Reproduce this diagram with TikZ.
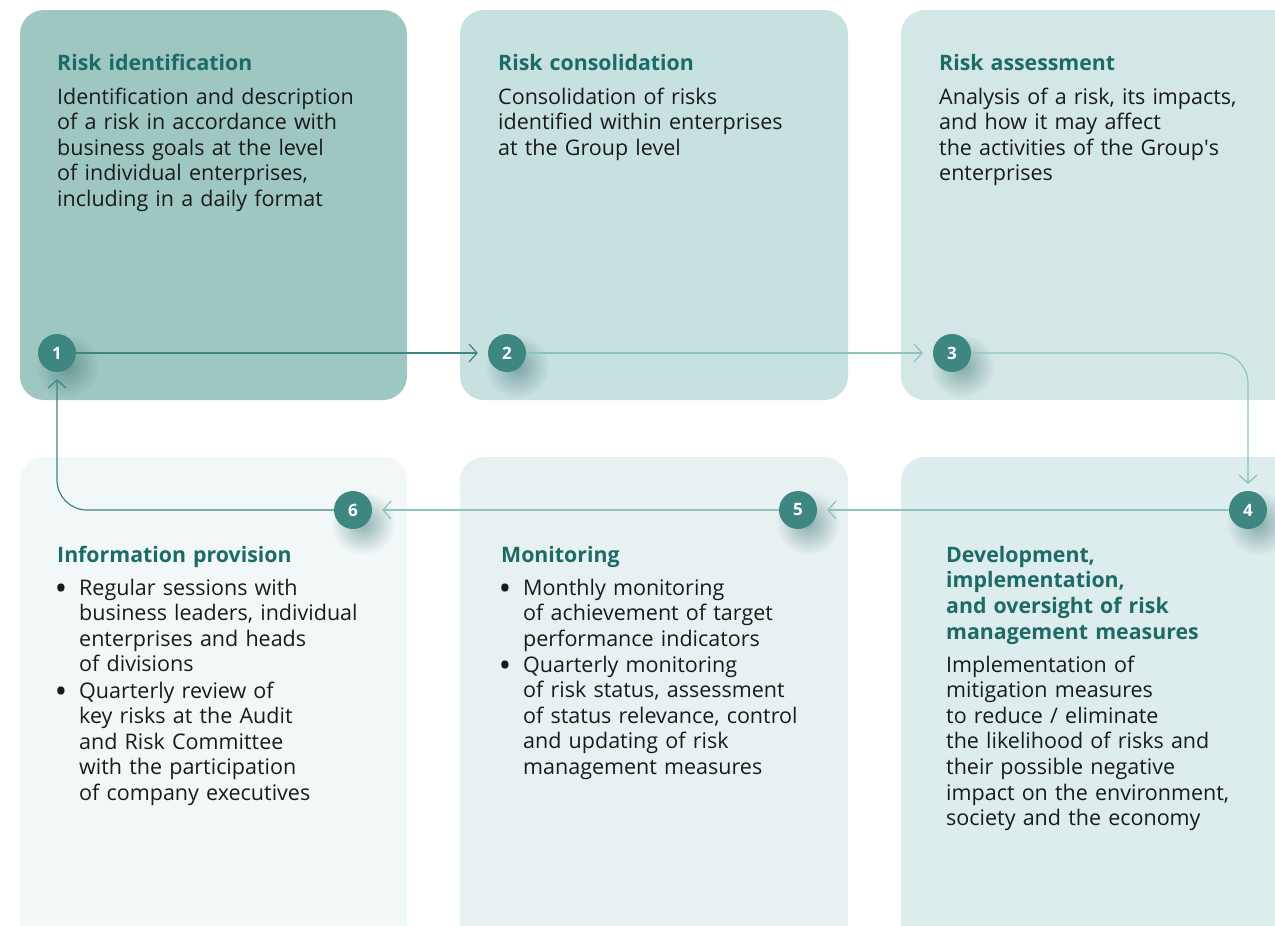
\documentclass[tikz,border=0pt]{standalone}
\usepackage{fontspec}
\setmainfont{Open Sans}
\usetikzlibrary{arrows.meta,fadings}
\definecolor{cardA}{HTML}{9FC7C2}
\definecolor{cardB}{HTML}{C7E0E0}
\definecolor{cardC}{HTML}{D3E7E6}
\definecolor{cardD}{HTML}{DDECEC}
\definecolor{cardE}{HTML}{E7F1F1}
\definecolor{cardF}{HTML}{F2F8F8}
\definecolor{circ}{HTML}{3E8680}
\definecolor{titlec}{HTML}{1D6B67}
\definecolor{bodyc}{HTML}{1A1A1A}
\definecolor{lightc}{HTML}{8DC3BD}
\definecolor{shadc}{HTML}{2F6A66}
\tikzfading[name=softshadow, inner color=transparent!0, outer color=transparent!100]
\begin{document}
\begin{tikzpicture}[x=1pt,y=-1pt,
  card/.style={rounded corners=24pt},
  num/.style={circle,fill=circ,minimum size=38pt,inner sep=0pt,text=white,
    font=\bfseries\fontsize{17}{17}\selectfont},
  shadow/.style={fill=shadc,opacity=0.5,path fading=softshadow},
  ttl/.style={anchor=base west,text width=380pt,align=left,inner sep=0pt,text=titlec,
    font=\bfseries\fontsize{21.3}{25.8}\selectfont},
  body/.style={anchor=base west,text width=380pt,align=left,inner sep=0pt,text=bodyc,
    font=\fontsize{21.5}{25.6}\selectfont},
  bul/.style={anchor=base west,inner sep=0pt,text=bodyc,font=\bfseries\fontsize{26}{25.6}\selectfont},
  darkconn/.style={draw=circ,line width=1.2pt,-{Straight Barb[length=8pt,width=18pt]}},
  lightconn/.style={draw=lightc,line width=1.2pt,-{Straight Barb[length=8pt,width=18pt]}}
]
\useasboundingbox (0,0) rectangle (1275,926);
\clip (0,0) rectangle (1275,926);
% cards
\fill[cardA,card] (20,10) rectangle (407,400);
\fill[cardB,card] (460,10) rectangle (848,400);
\fill[cardC,card] (901,10) rectangle (1320,400);
\fill[cardD,card] (901,457) rectangle (1320,960);
\fill[cardE,card] (460,457) rectangle (848,960);
\fill[cardF,card] (20,457) rectangle (407,960);

% texts card 1
\node[ttl] (t1) at (57,70) {Risk identification};
\node[body] (b1) at (57,104) {Identification and description\\of a risk in accordance with\\business goals at the level\\of individual enterprises,\\including in a daily format};
% card 2
\node[ttl] (t2) at (498,70) {Risk consolidation};
\node[body] (b2) at (498,104) {Consolidation of risks\\identified within enterprises\\at the Group level};
% card 3
\node[ttl] (t3) at (939,70) {Risk assessment};
\node[body] (b3) at (939,104) {Analysis of a risk, its impacts,\\and how it may affect\\the activities of the Group\textquotesingle s\\enterprises};
% card 4
\node[ttl] (t4) at (946,562) {Development,\\implementation,\\and oversight of risk\\management measures};
\node[body] (b4) at (946,672) {Implementation of\\mitigation measures\\to reduce / eliminate\\the likelihood of risks and\\their possible negative\\impact on the environment,\\society and the economy};
% card 5
\node[ttl] (t5) at (501,562) {Monitoring};
\node[bul] (d5a) at (500,597) {•};
\node[body] (b5a) at (523,595) {Monthly monitoring\\of achievement of target\\performance indicators};
\node[bul] (d5b) at (500,674) {•};
\node[body] (b5b) at (523,672) {Quarterly monitoring\\of risk status, assessment\\of status relevance, control\\and updating of risk\\management measures};
% card 6
\node[ttl] (t6) at (57,562) {Information provision};
\node[bul] (d6a) at (56,597) {•};
\node[body] (b6a) at (79,595) {Regular sessions with\\business leaders, individual\\enterprises and heads\\of divisions};
\node[bul] (d6b) at (56,700) {•};
\node[body] (b6b) at (79,698) {Quarterly review of\\key risks at the Audit\\and Risk Committee\\with the participation\\of company executives};

% soft shadows under the circles
\fill[shadow] (67,366) circle (32pt);
\fill[shadow] (517,366) circle (32pt);
\fill[shadow] (962,366) circle (32pt);
\fill[shadow] (1258,523) circle (32pt);
\fill[shadow] (808,523) circle (32pt);
\fill[shadow] (363,523) circle (32pt);

% numbered circles
\node[num] (c1) at (57,353) {1};
\node[num] (c2) at (507,353) {2};
\node[num] (c3) at (952,353) {3};
\node[num] (c4) at (1248,510) {4};
\node[num] (c5) at (798,510) {5};
\node[num] (c6) at (353,510) {6};

% connectors
\draw[darkconn,shorten >=10pt] (c1) -- (c2);
\draw[lightconn,shorten >=10pt] (c2) -- (c3);
\draw[lightconn,rounded corners=30pt,shorten >=7pt] (c3.east) -| (c4.north);
\draw[lightconn,shorten >=10pt] (c4) -- (c5);
\draw[lightconn,shorten >=10pt] (c5) -- (c6);
\draw[darkconn,rounded corners=30pt,shorten >=7pt] (c6.west) -| (c1.south);
\end{tikzpicture}
\end{document}
